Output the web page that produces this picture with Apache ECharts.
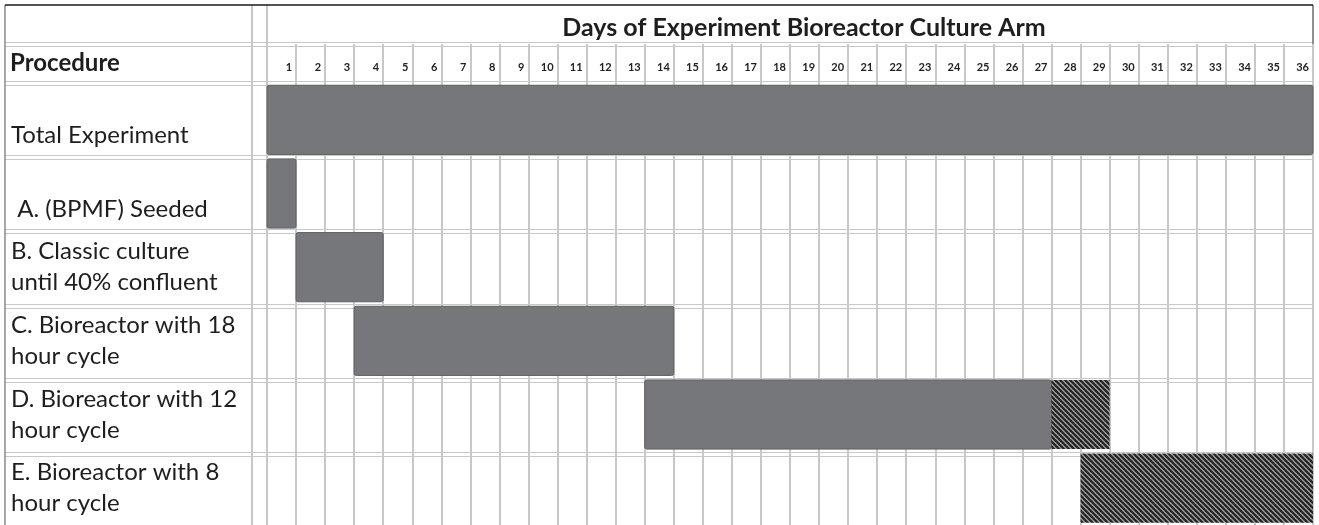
<!DOCTYPE html>
<html>
<head>
<meta charset="utf-8">
<title>Days of Experiment Bioreactor Culture Arm</title>
<script src="https://cdn.jsdelivr.net/npm/echarts@6/dist/echarts.min.js"></script>
<style>
  html, body { margin: 0; padding: 0; background: #fff; }
  #chart { width: 1319px; height: 525px; }
</style>
</head>
<body>
<div id="chart"></div>
<script>
// --- data ---
const dayLabels = ['1', '2', '3', '4', '5', '6', '7', '8', '9', '10', '11', '12',
  '13', '14', '15', '16', '17', '18', '19', '20', '21', '22', '23', '24',
  '25', '26', '27', '28', '29', '30', '31', '32', '33', '34', '35', '36']
const procedures = [
  'Total Experiment',
  ' A. (BPMF) Seeded',
  'B. Classic culture\nuntil 40% confluent',
  'C. Bioreactor with 18\nhour cycle',
  'D. Bioreactor with 12\nhour cycle',
  'E. Bioreactor with 8\nhour cycle'
]
// first and last day of the solid phase, per procedure (null = none)
const solidStart = [1, 1, 2, 4, 14, null]
const solidEnd = [36, 1, 4, 14, 27, null]
// first and last day of the hatched phase
const hatchStart = [null, null, null, null, 28, 29]
const hatchEnd = [null, null, null, null, 29, 36]

// --- layout ---
const TABLE_LEFT = 5
const TABLE_RIGHT = 1313
const TABLE_TOP = 5
const LABEL_SPLIT = 252
const DAYS_LEFT = 267
const PROC_TOP = 44
const BODY_TOP = 83
const ROW_H = 74.2
const FONT = 'Lato, "Open Sans", sans-serif'
const LINE = '#c8c8c8'
const BAR = '#76777b'

const barData = []
procedures.forEach((p, i) => {
  if (solidStart[i] != null) barData.push([i, solidStart[i], solidEnd[i], 0])
  if (hatchStart[i] != null) barData.push([i, hatchStart[i], hatchEnd[i], 1])
})

// diagonal hatch tile
const tile = document.createElement('canvas')
tile.width = tile.height = 5
const g = tile.getContext('2d')
g.fillStyle = '#9c9c9c'
g.fillRect(0, 0, 5, 5)
g.strokeStyle = '#222'
g.lineWidth = 2.1
for (const k of [-5, 0, 5]) {
  g.beginPath()
  g.moveTo(k - 1, -1)
  g.lineTo(k + 6, 6)
  g.stroke()
}
const hatch = { image: tile, repeat: 'repeat' }

const renderBar = (params, api) => {
  const row = api.value(0)
  const p0 = api.coord([api.value(1) - 1, row])
  const p1 = api.coord([api.value(2), row])
  const h = api.size([0, 1])[1] - 4.5
  const hatched = api.value(3) === 1
  return {
    type: 'rect',
    shape: { x: p0[0], y: p0[1] - h / 2, width: p1[0] - p0[0], height: h, r: hatched ? 0 : 2 },
    style: {
      fill: hatched ? hatch : BAR,
      stroke: hatched ? null : '#5e5f63',
      lineWidth: 1
    }
  }
}

// static table frame
const frame = []
const hline = (y, color, w) => frame.push({
  type: 'line', silent: true, z: 0,
  shape: { x1: TABLE_LEFT, y1: y, x2: TABLE_RIGHT, y2: y },
  style: { stroke: color, lineWidth: w }
})
const vline = (x, color, w) => frame.push({
  type: 'line', silent: true, z: 0,
  shape: { x1: x, y1: TABLE_TOP, x2: x, y2: 525 },
  style: { stroke: color, lineWidth: w }
})
const bounds = [PROC_TOP, BODY_TOP]
for (let i = 1; i < procedures.length; i++) bounds.push(BODY_TOP + i * ROW_H)
bounds.forEach(b => {
  hline(Math.round(b - 2) + 0.5, LINE, 1)
  hline(Math.round(b + 2) + 0.5, LINE, 1)
})
vline(LABEL_SPLIT, LINE, 2)
vline(DAYS_LEFT, LINE, 2)
vline(TABLE_LEFT, '#8a8a8a', 1.5)
vline(TABLE_RIGHT, '#6a6a6a', 1.5)
hline(TABLE_TOP, '#1a1a1a', 1.5)

const chart = echarts.init(document.getElementById('chart'))

chart.setOption({
  animation: false,
  backgroundColor: '#fff',
  title: {
    text: 'Days of Experiment Bioreactor Culture Arm',
    left: 799,
    top: 10,
    textAlign: 'center',
    textStyle: { fontFamily: FONT, fontSize: 25, fontWeight: 'bold', color: '#1e1e1e' }
  },
  grid: [
    { left: DAYS_LEFT, right: 1319 - TABLE_RIGHT, top: PROC_TOP, height: BODY_TOP - PROC_TOP },
    { left: DAYS_LEFT, right: 1319 - TABLE_RIGHT, top: BODY_TOP, height: ROW_H * procedures.length }
  ],
  xAxis: [
    {
      gridIndex: 0, type: 'value', min: 0, max: 36, interval: 1,
      axisLine: { show: false }, axisTick: { show: false }, axisLabel: { show: false },
      splitLine: { show: true, lineStyle: { color: LINE, width: 2 } }
    },
    {
      gridIndex: 1, type: 'value', min: 0, max: 36, interval: 1, position: 'top',
      axisLine: { show: false }, axisTick: { show: false },
      axisLabel: {
        formatter: v => dayLabels[v - 1] || '',
        align: 'right', verticalAlign: 'middle', padding: [0, 4, 0, 0], margin: 16,
        fontFamily: FONT, fontSize: 11, fontWeight: 'bold', color: '#222'
      },
      splitLine: { show: true, lineStyle: { color: LINE, width: 2 } }
    }
  ],
  yAxis: [
    {
      gridIndex: 0, type: 'category', data: ['Procedure'],
      axisLine: { show: false }, axisTick: { show: false },
      axisLabel: {
        align: 'left', margin: DAYS_LEFT - 10, padding: [4, 0, 0, 0],
        fontFamily: FONT, fontSize: 24, fontWeight: 'bold', color: '#1e1e1e'
      }
    },
    {
      gridIndex: 1, type: 'category', data: procedures, inverse: true,
      axisLine: { show: false }, axisTick: { show: false }, splitLine: { show: false },
      axisLabel: {
        formatter: s => s.includes('\n') ? s : '\n' + s,
        align: 'left', margin: DAYS_LEFT - 11, lineHeight: 31,
        fontFamily: FONT, fontSize: 24, color: '#1e1e1e'
      }
    }
  ],
  graphic: frame,
  series: [
    {
      type: 'custom',
      xAxisIndex: 1,
      yAxisIndex: 1,
      renderItem: renderBar,
      encode: { x: [1, 2], y: 0 },
      data: barData
    }
  ]
})

window.addEventListener('resize', () => chart.resize())
</script>
</body>
</html>
